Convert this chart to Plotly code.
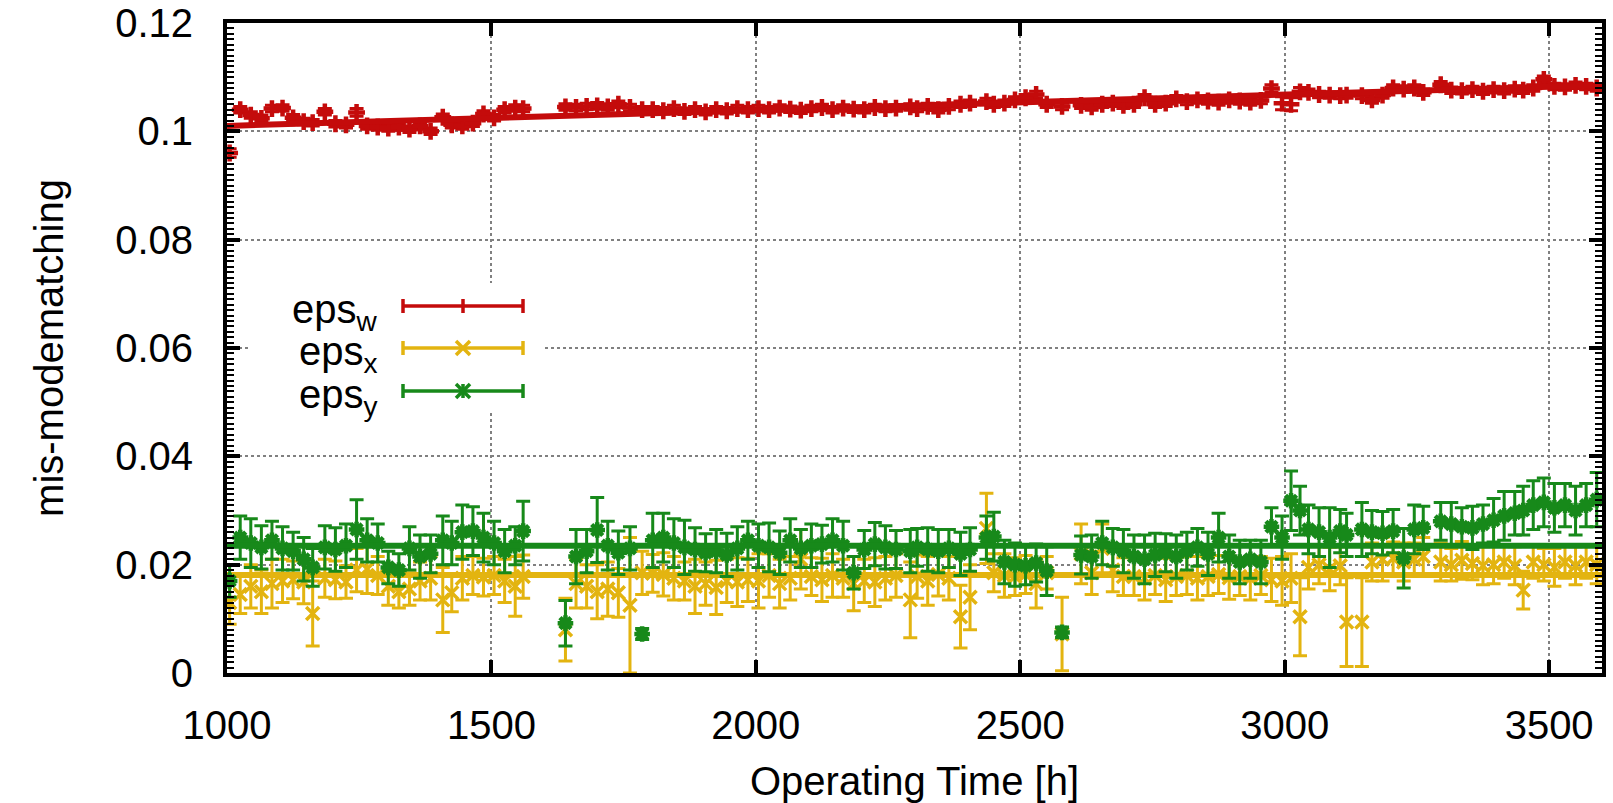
import plotly.graph_objects as go

# ---------------- data ----------------
hours = [
    1005, 1025, 1045, 1065, 1085,
    1105, 1125, 1145, 1162, 1185,
    1205, 1225, 1245, 1265, 1285,
    1305, 1325, 1345, 1365, 1385,
    1408, 1425, 1445, 1465, 1485,
    1505, 1525, 1545, 1560,
    1640, 1660, 1680,
    1700, 1720, 1740, 1762, 1785,
    1805, 1825, 1845, 1865, 1885,
    1905, 1925, 1945, 1965, 1985,
    2005, 2025, 2045, 2065, 2085,
    2105, 2125, 2145, 2165, 2185,
    2205, 2225, 2245, 2265, 2292,
    2305, 2325, 2345, 2365, 2387,
    2405, 2436, 2450, 2470, 2490,
    2510, 2530, 2550, 2579,
    2615, 2635, 2655, 2675, 2695,
    2715, 2735, 2755, 2775, 2795,
    2815, 2835, 2855, 2875, 2895,
    2915, 2935, 2955, 2975, 2995,
    3012, 3029, 3045, 3065, 3085,
    3105, 3117, 3146, 3165, 3185,
    3205, 3225, 3245, 3262,
    3295, 3315, 3335, 3355, 3375,
    3395, 3415, 3435, 3451, 3470,
    3490, 3510, 3530, 3550, 3570, 3590,
]

eps_w = [
    0.0960, 0.1040, 0.1030, 0.1024, 0.1042,
    0.1043, 0.1025, 0.1018, 0.1016, 0.1036,
    0.1014, 0.1012, 0.1035, 0.1010, 0.1008,
    0.1006, 0.1008, 0.1004, 0.1010, 0.1000,
    0.1026, 0.1012, 0.1010, 0.1015, 0.1032,
    0.1025, 0.1040, 0.1043, 0.1042,
    0.1045, 0.1044, 0.1046,
    0.1047, 0.1045, 0.1050, 0.1044, 0.1040,
    0.1040, 0.1038, 0.1042, 0.1037, 0.1040,
    0.1036, 0.1040, 0.1038, 0.1042, 0.1040,
    0.1042, 0.1040, 0.1043, 0.1041, 0.1039,
    0.1042, 0.1044, 0.1040, 0.1043, 0.1041,
    0.1040, 0.1044, 0.1042, 0.1043, 0.1045,
    0.1042, 0.1046, 0.1040, 0.1046, 0.1050,
    0.1052, 0.1055, 0.1050, 0.1052, 0.1058,
    0.1062, 0.1068, 0.1050, 0.1046,
    0.1048, 0.1045, 0.1050, 0.1052, 0.1048,
    0.1050, 0.1062, 0.1050, 0.1052, 0.1060,
    0.1055, 0.1058, 0.1056, 0.1054, 0.1058,
    0.1056, 0.1054, 0.1057, 0.1079, 0.1052,
    0.1050, 0.1073, 0.1072, 0.1068, 0.1067,
    0.1066, 0.1067, 0.1066, 0.1058, 0.1067,
    0.1080, 0.1078, 0.1080, 0.1072,
    0.1086, 0.1076, 0.1075, 0.1077, 0.1074,
    0.1077, 0.1075, 0.1078, 0.1076, 0.1080,
    0.1096, 0.1083, 0.1082, 0.1085, 0.1083, 0.1080,
]
eps_w_err = [
    0.0008, 0.0006, 0.0006, 0.0006, 0.0006,
    0.0006, 0.0006, 0.0006, 0.0006, 0.0006,
    0.0006, 0.0006, 0.0007, 0.0006, 0.0006,
    0.0006, 0.0006, 0.0006, 0.0006, 0.0006,
    0.0006, 0.0006, 0.0006, 0.0006, 0.0006,
    0.0006, 0.0006, 0.0006, 0.0006,
    0.0006, 0.0006, 0.0006,
    0.0006, 0.0006, 0.0006, 0.0006, 0.0006,
    0.0006, 0.0006, 0.0006, 0.0006, 0.0006,
    0.0006, 0.0006, 0.0006, 0.0006, 0.0006,
    0.0006, 0.0006, 0.0006, 0.0006, 0.0006,
    0.0006, 0.0006, 0.0006, 0.0006, 0.0006,
    0.0006, 0.0006, 0.0006, 0.0006, 0.0006,
    0.0006, 0.0006, 0.0006, 0.0006, 0.0006,
    0.0006, 0.0006, 0.0006, 0.0006, 0.0006,
    0.0006, 0.0006, 0.0006, 0.0006,
    0.0006, 0.0006, 0.0006, 0.0006, 0.0006,
    0.0006, 0.0006, 0.0006, 0.0006, 0.0006,
    0.0006, 0.0006, 0.0006, 0.0006, 0.0006,
    0.0006, 0.0006, 0.0006, 0.0007, 0.0012,
    0.0012, 0.0008, 0.0006, 0.0006, 0.0006,
    0.0006, 0.0006, 0.0006, 0.0006, 0.0006,
    0.0006, 0.0006, 0.0006, 0.0006,
    0.0006, 0.0006, 0.0006, 0.0006, 0.0006,
    0.0006, 0.0006, 0.0006, 0.0006, 0.0006,
    0.0006, 0.0006, 0.0006, 0.0006, 0.0006, 0.0006,
]

eps_x = [
    0.0130, 0.0145, 0.0160, 0.0150, 0.0165,
    0.0170, 0.0172, 0.0168, 0.0110, 0.0175,
    0.0172, 0.0168, 0.0190, 0.0192, 0.0180,
    0.0160, 0.0150, 0.0155, 0.0170, 0.0175,
    0.0135, 0.0148, 0.0175, 0.0180, 0.0177,
    0.0180, 0.0170, 0.0160, 0.0178,
    0.0080, 0.0165, 0.0160,
    0.0150, 0.0155, 0.0148, 0.0125, 0.0185,
    0.0184, 0.0182, 0.0175, 0.0170, 0.0160,
    0.0165, 0.0158, 0.0170, 0.0168, 0.0172,
    0.0170, 0.0180, 0.0165, 0.0175, 0.0210,
    0.0178, 0.0172, 0.0180, 0.0175, 0.0165,
    0.0170, 0.0168, 0.0175, 0.0180, 0.0135,
    0.0178, 0.0170, 0.0182, 0.0175, 0.0104,
    0.0140, 0.0267, 0.0185, 0.0180, 0.0178,
    0.0182, 0.0165, 0.0185, 0.0072,
    0.0220, 0.0185, 0.0230, 0.0190, 0.0178,
    0.0178, 0.0175, 0.0180, 0.0172, 0.0178,
    0.0180, 0.0175, 0.0178, 0.0182, 0.0176,
    0.0178, 0.0175, 0.0180, 0.0172, 0.0170,
    0.0175, 0.0104, 0.0195, 0.0200, 0.0192,
    0.0198, 0.0094, 0.0094, 0.0205, 0.0210,
    0.0212, 0.0205, 0.0210, 0.0215,
    0.0205, 0.0200, 0.0208, 0.0202, 0.0198,
    0.0200, 0.0205, 0.0198, 0.0153, 0.0205,
    0.0200, 0.0195, 0.0205, 0.0198, 0.0205, 0.0200,
]
eps_x_err = [
    0.0040, 0.0035, 0.0040, 0.0040, 0.0045,
    0.0040, 0.0035, 0.0040, 0.0060, 0.0035,
    0.0035, 0.0030, 0.0040, 0.0045, 0.0035,
    0.0035, 0.0030, 0.0030, 0.0035, 0.0040,
    0.0060, 0.0035, 0.0040, 0.0035, 0.0035,
    0.0035, 0.0040, 0.0055, 0.0040,
    0.0058, 0.0045, 0.0040,
    0.0050, 0.0050, 0.0045, 0.0125, 0.0040,
    0.0035, 0.0040, 0.0040, 0.0035, 0.0050,
    0.0040, 0.0050, 0.0040, 0.0045, 0.0040,
    0.0050, 0.0040, 0.0045, 0.0040, 0.0055,
    0.0035, 0.0040, 0.0040, 0.0035, 0.0050,
    0.0040, 0.0045, 0.0040, 0.0040, 0.0070,
    0.0040, 0.0045, 0.0040, 0.0040, 0.0058,
    0.0060, 0.0065, 0.0035, 0.0040, 0.0035,
    0.0035, 0.0045, 0.0030, 0.0068,
    0.0055, 0.0040, 0.0045, 0.0040, 0.0035,
    0.0035, 0.0040, 0.0035, 0.0040, 0.0035,
    0.0035, 0.0040, 0.0035, 0.0035, 0.0040,
    0.0035, 0.0040, 0.0035, 0.0040, 0.0045,
    0.0045, 0.0072, 0.0040, 0.0035, 0.0040,
    0.0035, 0.0082, 0.0082, 0.0035, 0.0040,
    0.0030, 0.0035, 0.0030, 0.0035,
    0.0035, 0.0030, 0.0035, 0.0030, 0.0035,
    0.0035, 0.0030, 0.0035, 0.0035, 0.0030,
    0.0030, 0.0035, 0.0030, 0.0035, 0.0030, 0.0035,
]

eps_y = [
    0.0170, 0.0250, 0.0240, 0.0232, 0.0245,
    0.0230, 0.0225, 0.0210, 0.0195, 0.0232,
    0.0228, 0.0235, 0.0265, 0.0245, 0.0240,
    0.0195, 0.0190, 0.0230, 0.0215, 0.0220,
    0.0245, 0.0240, 0.0260, 0.0262, 0.0250,
    0.0240, 0.0225, 0.0235, 0.0262,
    0.0092, 0.0215, 0.0225,
    0.0264, 0.0235, 0.0222, 0.0230, 0.0072,
    0.0245, 0.0250, 0.0240, 0.0232, 0.0228,
    0.0222, 0.0225, 0.0218, 0.0230, 0.0245,
    0.0235, 0.0232, 0.0222, 0.0245, 0.0230,
    0.0235, 0.0238, 0.0245, 0.0235, 0.0185,
    0.0228, 0.0238, 0.0232, 0.0228, 0.0225,
    0.0232, 0.0228, 0.0225, 0.0230, 0.0220,
    0.0228, 0.0250, 0.0252, 0.0205, 0.0200,
    0.0198, 0.0203, 0.0188, 0.0075,
    0.0218, 0.0215, 0.0240, 0.0232, 0.0225,
    0.0215, 0.0210, 0.0218, 0.0222, 0.0215,
    0.0225, 0.0232, 0.0220, 0.0250, 0.0215,
    0.0205, 0.0210, 0.0205, 0.0270, 0.0250,
    0.0318, 0.0300, 0.0265, 0.0260, 0.0250,
    0.0262, 0.0255, 0.0265, 0.0260, 0.0258,
    0.0262, 0.0212, 0.0265, 0.0268,
    0.0280, 0.0275, 0.0270, 0.0268, 0.0275,
    0.0282, 0.0290, 0.0295, 0.0300, 0.0310,
    0.0315, 0.0305, 0.0310, 0.0300, 0.0310, 0.0320,
]
eps_y_err = [
    0.0030, 0.0040, 0.0045, 0.0040, 0.0035,
    0.0040, 0.0035, 0.0040, 0.0035, 0.0040,
    0.0040, 0.0040, 0.0055, 0.0040, 0.0035,
    0.0030, 0.0030, 0.0040, 0.0040, 0.0035,
    0.0045, 0.0040, 0.0050, 0.0045, 0.0045,
    0.0040, 0.0040, 0.0035, 0.0055,
    0.0042, 0.0050, 0.0040,
    0.0060, 0.0045, 0.0040, 0.0040, 0.0010,
    0.0050, 0.0045, 0.0045, 0.0050, 0.0040,
    0.0035, 0.0040, 0.0040, 0.0040, 0.0035,
    0.0040, 0.0045, 0.0040, 0.0040, 0.0035,
    0.0040, 0.0035, 0.0040, 0.0045, 0.0030,
    0.0035, 0.0040, 0.0040, 0.0035, 0.0040,
    0.0035, 0.0040, 0.0040, 0.0035, 0.0040,
    0.0040, 0.0040, 0.0045, 0.0040, 0.0040,
    0.0035, 0.0035, 0.0045, 0.0010,
    0.0035, 0.0040, 0.0040, 0.0035, 0.0040,
    0.0040, 0.0045, 0.0040, 0.0035, 0.0040,
    0.0035, 0.0035, 0.0040, 0.0045, 0.0040,
    0.0040, 0.0035, 0.0040, 0.0035, 0.0040,
    0.0055, 0.0045, 0.0045, 0.0045, 0.0055,
    0.0040, 0.0040, 0.0050, 0.0040, 0.0040,
    0.0040, 0.0055, 0.0045, 0.0040,
    0.0035, 0.0040, 0.0035, 0.0040, 0.0035,
    0.0040, 0.0045, 0.0040, 0.0045, 0.0045,
    0.0045, 0.0045, 0.0040, 0.0045, 0.0040, 0.0050,
]

fit_hours = [1000, 3600]
fit_w = [0.1010, 0.1085]
fit_x = [0.0181, 0.0181]
fit_y = [0.0235, 0.0235]

x_ticks = [1000, 1500, 2000, 2500, 3000, 3500]
y_ticks = [0, 0.02, 0.04, 0.06, 0.08, 0.1, 0.12]
y_tick_labels = ["0", "0.02", "0.04", "0.06", "0.08", "0.1", "0.12"]

series_names = ["eps<sub>w</sub>", "eps<sub>x</sub>", "eps<sub>y</sub>"]

# ---------------- style ----------------
RED = "#c40b0b"
YEL = "#e3b410"
GRN = "#17891a"
FONT = "Liberation Sans, Arial, Helvetica, sans-serif"
FS = 40

W, H = 1613, 803
ML, MR, MT, MB = 227, 11, 23, 130
PW, PH = W - ML - MR, H - MT - MB


def pxx(p):
    return (p - ML) / PW


def pxy(p):
    return (H - MB - p) / PH


fig = go.Figure()


def add_points(y, err, color, symbol, size, lw):
    fig.add_trace(go.Scatter(
        x=hours, y=y, mode="markers", showlegend=False,
        marker=dict(symbol=symbol, size=size, color=color,
                    line=dict(width=lw, color=color)),
        error_y=dict(type="data", array=err, visible=True,
                     color=color, thickness=3, width=7),
    ))


def add_fit(y, color):
    fig.add_trace(go.Scatter(
        x=fit_hours, y=y, mode="lines", showlegend=False,
        line=dict(color=color, width=6),
    ))


add_points(eps_w, eps_w_err, RED, "cross-thin", 12, 4.5)
add_fit(fit_w, RED)
add_points(eps_x, eps_x_err, YEL, "x-thin", 13, 3.5)
add_fit(fit_x, YEL)
add_points(eps_y, eps_y_err, GRN, "asterisk", 13, 4.5)
add_fit(fit_y, GRN)

# ---------------- custom gnuplot-style key ----------------
shapes = []
annotations = []
shapes.append(dict(type="rect", xref="paper", yref="paper", layer="above",
                   x0=pxx(250), x1=pxx(545), y0=pxy(412), y1=pxy(283),
                   fillcolor="white", line=dict(width=0)))
rows = [306, 348, 391]
colors = [RED, YEL, GRN]
sx0, sx1, smid = 403, 523, 463
cap = 7
mk = 7
for i, (ry, col) in enumerate(zip(rows, colors)):
    ln = dict(color=col, width=3.5)
    shapes.append(dict(type="line", xref="paper", yref="paper", layer="above",
                       x0=pxx(sx0), x1=pxx(sx1), y0=pxy(ry), y1=pxy(ry), line=ln))
    for ex in (sx0, sx1):
        shapes.append(dict(type="line", xref="paper", yref="paper", layer="above",
                           x0=pxx(ex), x1=pxx(ex), y0=pxy(ry - cap), y1=pxy(ry + cap), line=ln))
    if i in (0, 2):
        shapes.append(dict(type="line", xref="paper", yref="paper", layer="above",
                           x0=pxx(smid), x1=pxx(smid), y0=pxy(ry - mk), y1=pxy(ry + mk), line=ln))
    if i in (1, 2):
        shapes.append(dict(type="line", xref="paper", yref="paper", layer="above",
                           x0=pxx(smid - mk), x1=pxx(smid + mk), y0=pxy(ry - mk), y1=pxy(ry + mk), line=ln))
        shapes.append(dict(type="line", xref="paper", yref="paper", layer="above",
                           x0=pxx(smid - mk), x1=pxx(smid + mk), y0=pxy(ry + mk), y1=pxy(ry - mk), line=ln))
    annotations.append(dict(xref="paper", yref="paper", x=pxx(380), y=pxy(ry + 6),
                            xanchor="right", yanchor="middle", showarrow=False,
                            text=series_names[i], font=dict(family=FONT, size=FS, color="black")))

fig.update_layout(
    width=W, height=H,
    margin=dict(l=ML, r=MR, t=MT, b=MB, autoexpand=False),
    paper_bgcolor="white", plot_bgcolor="white",
    font=dict(family=FONT, size=FS, color="black"),
    shapes=shapes, annotations=annotations,
    xaxis=dict(
        range=[1000, 3600], tickvals=x_ticks, ticktext=[str(v) for v in x_ticks],
        ticks="inside", ticklen=13, tickwidth=4, tickcolor="black",
        showline=True, linewidth=4, linecolor="black", mirror="allticks",
        showgrid=True, gridcolor="#808080", griddash="dot", gridwidth=1.5,
        zeroline=False, tickfont=dict(family=FONT, size=FS),
        ticklabelstandoff=14,
        title=dict(text="Operating Time [h]", font=dict(family=FONT, size=FS), standoff=28),
    ),
    yaxis=dict(
        range=[0, 0.12], tickvals=y_ticks, ticktext=y_tick_labels,
        ticks="inside", ticklen=13, tickwidth=4, tickcolor="black",
        showline=True, linewidth=4, linecolor="black", mirror="allticks",
        showgrid=True, gridcolor="#808080", griddash="dot", gridwidth=1.5,
        zeroline=False, tickfont=dict(family=FONT, size=FS),
        ticklabelstandoff=22,
        minor=dict(dtick=0.001, ticks="inside", ticklen=7, tickwidth=2,
                   tickcolor="black", showgrid=False),
        title=dict(text="mis-modematching", font=dict(family=FONT, size=FS), standoff=40),
    ),
)

fig.write_html("out.html")
